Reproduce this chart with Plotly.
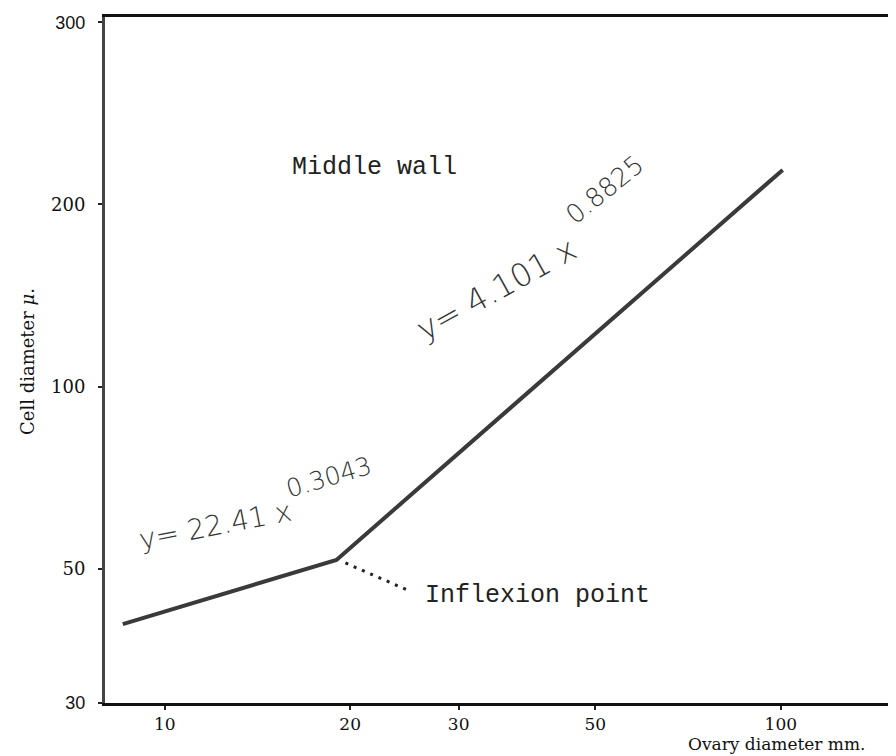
import math
import plotly.graph_objects as go

# ---- data ----
OVARY_DIAMETER_MM = [8.55, 19.0, 100.7]      # x: start, inflexion point, end
CELL_DIAMETER_MU = [40.5, 51.7, 228.0]       # y
INFLEXION_INDEX = 1
X_TICK_VALUES = [10, 20, 30, 50, 100]
X_TICK_LABELS = ["10", "20", "30", "50", "100"]
Y_TICK_VALUES = [30, 50, 100, 200, 400]
Y_TICK_LABELS = ['<span style="font-family:Liberation Sans">30</span>', "50", "100", "200",
                 '<span style="font-family:Liberation Sans">300</span>']
X_RANGE = [8.0, 156.7]
Y_RANGE = [30.0, 408.0]

EQ_LOW_BASE, EQ_LOW_EXP = "y= 22.41 x", "0.3043"
EQ_HIGH_BASE, EQ_HIGH_EXP = "y= 4.101 x", "0.8825"

fig = go.Figure()
fig.add_trace(go.Scatter(
    x=OVARY_DIAMETER_MM, y=CELL_DIAMETER_MU, mode="lines",
    line=dict(color="#3a3a3a", width=4), hoverinfo="skip", showlegend=False))

serif = "DejaVu Serif"
mono = "Liberation Mono"
hand = "DejaVu Sans"

ylog0, ylog1 = math.log10(Y_RANGE[0]), math.log10(Y_RANGE[1])

fig.update_layout(
    width=896, height=756,
    margin=dict(l=97, r=3, t=9, b=61),
    paper_bgcolor="white", plot_bgcolor="white",
    showlegend=False,
    xaxis=dict(type="log", range=[math.log10(X_RANGE[0]), math.log10(X_RANGE[1])],
               tickvals=X_TICK_VALUES, ticktext=X_TICK_LABELS,
               ticks="outside", ticklen=4, tickwidth=2, tickcolor="#222",
               ticklabelstandoff=0,
               showgrid=False, zeroline=False,
               showline=True, linecolor="#111", linewidth=3, mirror=True,
               tickfont=dict(family=serif, size=17, color="#111")),
    yaxis=dict(type="log", range=[ylog0, ylog1],
               tickvals=Y_TICK_VALUES, ticktext=Y_TICK_LABELS,
               ticks="outside", ticklen=4, tickwidth=2, tickcolor="#222",
               ticklabelstandoff=9,
               showgrid=False, zeroline=False,
               showline=True, linecolor="#444", linewidth=3, mirror=False,
               tickfont=dict(family=serif, size=18, color="#111")),
)

# right border of the frame (lighter)
fig.add_shape(type="line", xref="paper", yref="paper", x0=1, x1=1, y0=0, y1=1,
              line=dict(color="#777", width=2))

# dotted pointer from the inflexion point to its label
infl_x = OVARY_DIAMETER_MM[INFLEXION_INDEX]
infl_y_paper = (math.log10(CELL_DIAMETER_MU[INFLEXION_INDEX]) - ylog0) / (ylog1 - ylog0)
fig.add_shape(type="line", xref="x", yref="paper",
              xsizemode="pixel", ysizemode="pixel",
              xanchor=infl_x, yanchor=infl_y_paper,
              x0=9, y0=-3, x1=73, y1=-31,
              line=dict(color="#222", width=3, dash="3px,6px"))

ann = [
    dict(text="Middle wall", x=0.2324, y=0.7813, xanchor="left", yanchor="middle",
         font=dict(family=mono, size=25, color="#222")),
    dict(text="Inflexion point", x=0.3995, y=0.156, xanchor="left", yanchor="middle",
         font=dict(family=mono, size=25, color="#222")),
    dict(text="Ovary diameter mm.", x=0.9585, y=-0.0598, xanchor="right", yanchor="middle",
         font=dict(family=serif, size=17, color="#111")),
    dict(text="Cell diameter <i>μ</i>.", x=-0.098, y=0.4985, xanchor="center", yanchor="middle",
         textangle=-90, font=dict(family=serif, size=18, color="#111")),
    # handwritten equations (base and exponent written separately)
    dict(text=EQ_LOW_BASE, x=0.1382, y=0.2587, xanchor="center", yanchor="middle",
         textangle=-11, font=dict(family=hand, size=28, color="#333", weight=200)),
    dict(text=EQ_LOW_EXP, x=0.2802, y=0.3294, xanchor="center", yanchor="middle",
         textangle=-16.5, font=dict(family=hand, size=25, color="#333", weight=200)),
    dict(text=EQ_HIGH_BASE, x=0.4920, y=0.6035, xanchor="center", yanchor="middle",
         textangle=-29, font=dict(family=hand, size=32, color="#333", weight=200)),
    dict(text=EQ_HIGH_EXP, x=0.6269, y=0.7485, xanchor="center", yanchor="middle",
         textangle=-39, font=dict(family=hand, size=26, color="#333", weight=200)),
]
for a in ann:
    fig.add_annotation(xref="paper", yref="paper", showarrow=False, **a)

fig.write_html("out.html")
